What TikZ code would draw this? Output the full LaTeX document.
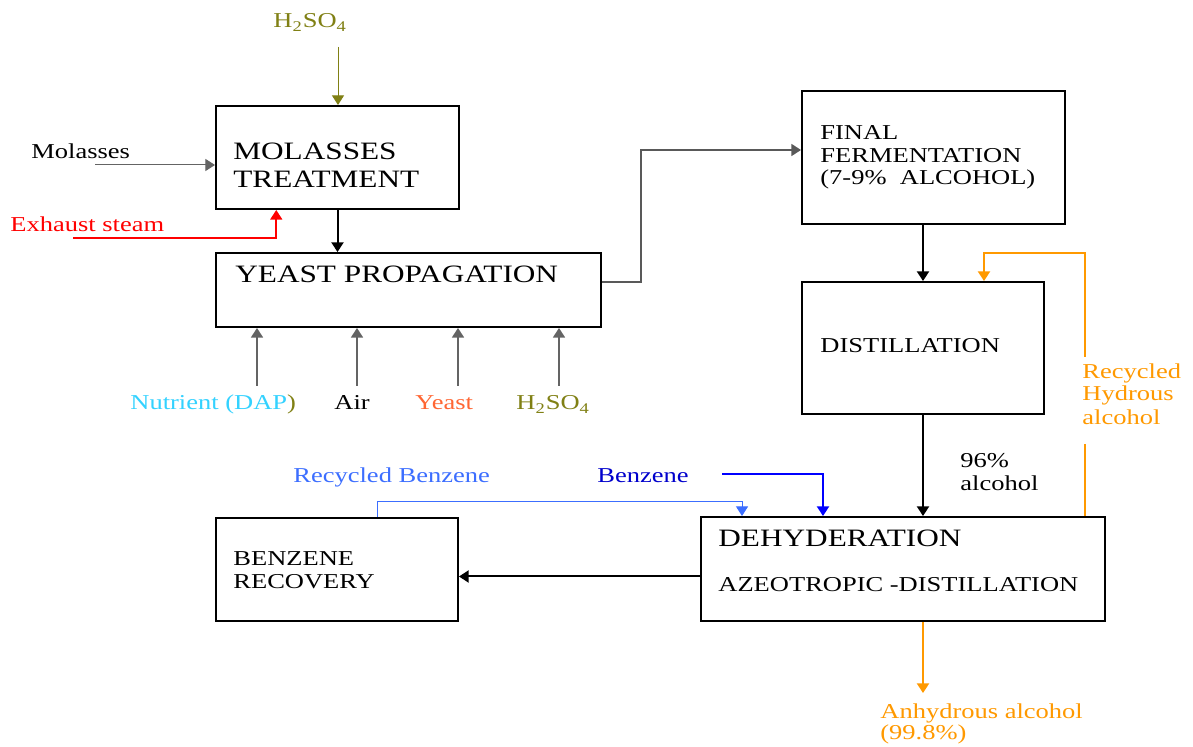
\documentclass[tikz,border=0pt]{standalone}
\usepackage{fontspec}
\setmainfont[FakeStretch=1.25]{Liberation Serif}
\usetikzlibrary{arrows.meta, calc}

\definecolor{olivetxt}{RGB}{128,128,20}
\definecolor{cyantxt}{RGB}{51,210,255}
\definecolor{yeasttxt}{RGB}{255,102,51}
\definecolor{ltblue}{RGB}{60,110,255}
\definecolor{orangeflow}{RGB}{255,153,0}
\definecolor{feedgray}{RGB}{100,100,100}

\tikzset{
    stage/.style={draw, line width=1pt, inner sep=0pt},
    lbl/.style={anchor=base west, inner sep=0pt, font=\fontsize{10.6}{13}\selectfont},
    biglbl/.style={lbl, font=\fontsize{12.5}{15}\selectfont},
    flow/.style={-{Triangle[length=4.8pt,width=6pt]}, line width=1pt},
    feed/.style={flow, line width=0.5pt}
}

\begin{document}
\begin{tikzpicture}[x=0.5pt, y=-0.5pt]
        \useasboundingbox (0,0) rectangle (1193,747);
        \fill[white] (0,0) rectangle (1193,747);

        % process stages
        \node[stage, minimum width=121.5pt, minimum height=51.5pt] (mt) at (337.5,157.5) {};
        \node[stage, minimum width=192.5pt, minimum height=37pt] (yp) at (408.5,290) {};
        \node[stage, minimum width=131.5pt, minimum height=66.5pt] (ff) at (933.5,157.5) {};
        \node[stage, minimum width=121pt, minimum height=66pt] (ds) at (923,348) {};
        \node[stage, minimum width=202pt, minimum height=52pt] (dh) at (903,569) {};
        \node[stage, minimum width=121pt, minimum height=51.5pt] (br) at (337,569.5) {};

        \node[biglbl] (mt1) at (233,160) {MOLASSES};
        \node[biglbl] (mt2) at (233,188) {TREATMENT};
        \node[biglbl] (yp1) at (235,283) {YEAST PROPAGATION};
        \node[lbl] (ff1) at (820,140) {FINAL};
        \node[lbl] (ff2) at (820,163) {FERMENTATION};
        \node[lbl] (ff3) at (820,185) {(7-9\%\ \ ALCOHOL)};
        \node[lbl] (ds1) at (820,353) {DISTILLATION};
        \node[biglbl] (dh1) at (718,547) {DEHYDERATION};
        \node[lbl] (dh2) at (718,592) {AZEOTROPIC -DISTILLATION};
        \node[lbl] (br1) at (233,566) {BENZENE};
        \node[lbl] (br2) at (233,589) {RECOVERY};

        % inputs and outputs
        \node[lbl, text=olivetxt] (acid1) at (273,28) {H\textsubscript{2}SO\textsubscript{4}};
        \node[lbl] (mol) at (31,159) {Molasses};
        \node[lbl, text=red] (steam) at (10,232) {Exhaust steam};
        \node[lbl, text=cyantxt] (nut) at (130,410) {Nutrient (DAP\textcolor{olivetxt}{)}};
        \node[lbl] (air) at (334,410) {Air};
        \node[lbl, text=yeasttxt] (yst) at (415,410) {Yeast};
        \node[lbl, text=olivetxt] (acid2) at (516,410) {H\textsubscript{2}SO\textsubscript{4}};
        \node[lbl, text=ltblue] (rbz) at (293,483) {Recycled Benzene};
        \node[lbl, text=blue!80!black] (bz) at (597,483) {Benzene};
        \node[lbl] (alc1) at (960,468) {96\%};
        \node[lbl] (alc2) at (960,491) {alcohol};
        \node[lbl, text=orangeflow] (rh1) at (1082,379) {Recycled};
        \node[lbl, text=orangeflow] (rh2) at (1082,401) {Hydrous};
        \node[lbl, text=orangeflow] (rh3) at (1082,425) {alcohol};
        \node[lbl, text=orangeflow] (an1) at (880,718) {Anhydrous alcohol};
        \node[lbl, text=orangeflow] (an2) at (880,739) {(99.8\%)};

        \coordinate (acidin) at (338,47);
        \coordinate (molin) at (95,165);
        \coordinate (steamin) at (73,238);
        \coordinate (bzin) at (722,474);
        \coordinate (rhlow) at (1085,444);
        \coordinate (rhup) at (1085,357);
        \coordinate (anout) at (923,693);

        % feeds
        \draw[feed, draw=olivetxt] (acidin) -- (acidin |- mt.north);
        \draw[feed, draw=feedgray] (molin) -- (molin -| mt.west);
        \draw[feed, draw=red, line width=0.8pt] (steamin) -| ($(mt.south west)!0.25!(mt.south east)$);
        \foreach \xin/\name in {257/nf, 357/af, 458/yf, 559/sf} {
            \coordinate (\name) at (\xin,386);
            \draw[feed, draw=feedgray, line width=0.8pt] (\name) -- (\name |- yp.south);
        }

        % main flow
        \draw[flow] (mt.south) -- (mt.south |- yp.north);
        \draw[feed, draw=black!65, line width=0.7pt] ([yshift=4pt]yp.east) -- ++(39,0) |- ([yshift=3.75pt]ff.west);
        \draw[flow] (ds.north |- ff.south) -- (ds.north);
        \draw[flow] (ds.south) -- (ds.south |- dh.north);
        \draw[flow] ([yshift=-3.75pt]dh.west) -- ([yshift=-3.75pt]dh.west -| br.east);

        % benzene loop
        \draw[feed, draw=ltblue] ([xshift=20pt]br.north) -- ++(0,-15) -| ([xshift=-80.5pt]dh.north);
        \draw[flow, draw=blue] (bzin) -| ([xshift=-40pt]dh.north);

        % hydrous alcohol recycle and product
        \draw[line width=1pt, orangeflow] (rhlow) -- (rhlow |- dh.north);
        \draw[flow, draw=orangeflow] (rhup) -- ++(0,-104) -| ([xshift=30.5pt]ds.north);
        \draw[flow, draw=orangeflow] (ds.south |- dh.south) -- (anout);
\end{tikzpicture}
\end{document}
